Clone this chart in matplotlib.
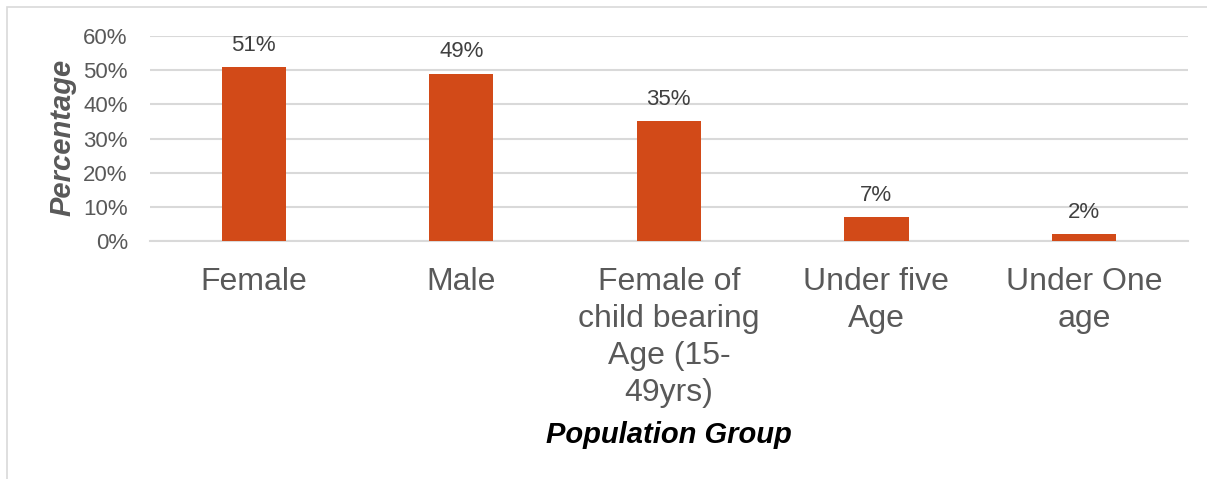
import matplotlib.pyplot as plt
from matplotlib.patches import Rectangle
from matplotlib.ticker import PercentFormatter

# population share by group
groups = ["Female", "Male", "Female of\nchild bearing\nAge (15-\n49yrs)",
          "Under five\nAge", "Under One\nage"]
shares = [0.51, 0.49, 0.35, 0.07, 0.02]
y_ticks = [0.0, 0.1, 0.2, 0.3, 0.4, 0.5, 0.6]

BAR_COLOR = "#D24A18"
GRID_COLOR = "#D9D9D9"
TEXT_GRAY = "#595959"

plt.rcParams["font.family"] = ["Liberation Sans", "DejaVu Sans"]

fig = plt.figure(figsize=(12.07, 4.79), dpi=100)
ax = fig.add_axes([0.1243, 0.4969, 0.8597, 0.4279])

x = range(len(groups))
bars = ax.bar(x, shares, width=0.31, color=BAR_COLOR, zorder=3)

for rect, v in zip(bars, shares):
    ax.annotate(f"{v:.0%}", (rect.get_x() + rect.get_width() / 2, v),
                xytext=(0, 8), textcoords="offset points",
                ha="center", va="bottom", fontsize=16, color="#404040")

ax.set_xlim(-0.5, len(groups) - 0.5)
ax.set_ylim(0, 0.6)
ax.set_yticks(y_ticks)
ax.yaxis.set_major_formatter(PercentFormatter(1.0, decimals=0))
ax.set_xticks(list(x))
ax.set_xticklabels(groups, fontsize=23, color=TEXT_GRAY, linespacing=1.3)
ax.tick_params(axis="y", length=0, pad=16, labelsize=16, labelcolor=TEXT_GRAY)
ax.tick_params(axis="x", length=0, pad=19)

ax.yaxis.grid(True, color=GRID_COLOR, linewidth=1.5, zorder=0)
ax.set_axisbelow(True)
for side in ["top", "right", "left"]:
    ax.spines[side].set_visible(False)
ax.spines["bottom"].set_color(GRID_COLOR)
ax.spines["bottom"].set_linewidth(1.5)

ax.set_xlabel("Population Group", fontsize=21, fontweight="bold",
              fontstyle="italic", color="black", va="center")
ax.xaxis.set_label_coords(0.5, -0.946)
ax.set_ylabel("Percentage", fontsize=21, fontweight="bold",
              fontstyle="italic", color=TEXT_GRAY, va="center")
ax.yaxis.set_label_coords(-0.0848, 0.507)

# light frame around the chart area
fig.add_artist(Rectangle((7 / 1207, -0.2), 1.2, 1.2 - 7 / 479,
                         transform=fig.transFigure, fill=False,
                         edgecolor=GRID_COLOR, linewidth=1.2))

fig.savefig("out.png", dpi=100)
